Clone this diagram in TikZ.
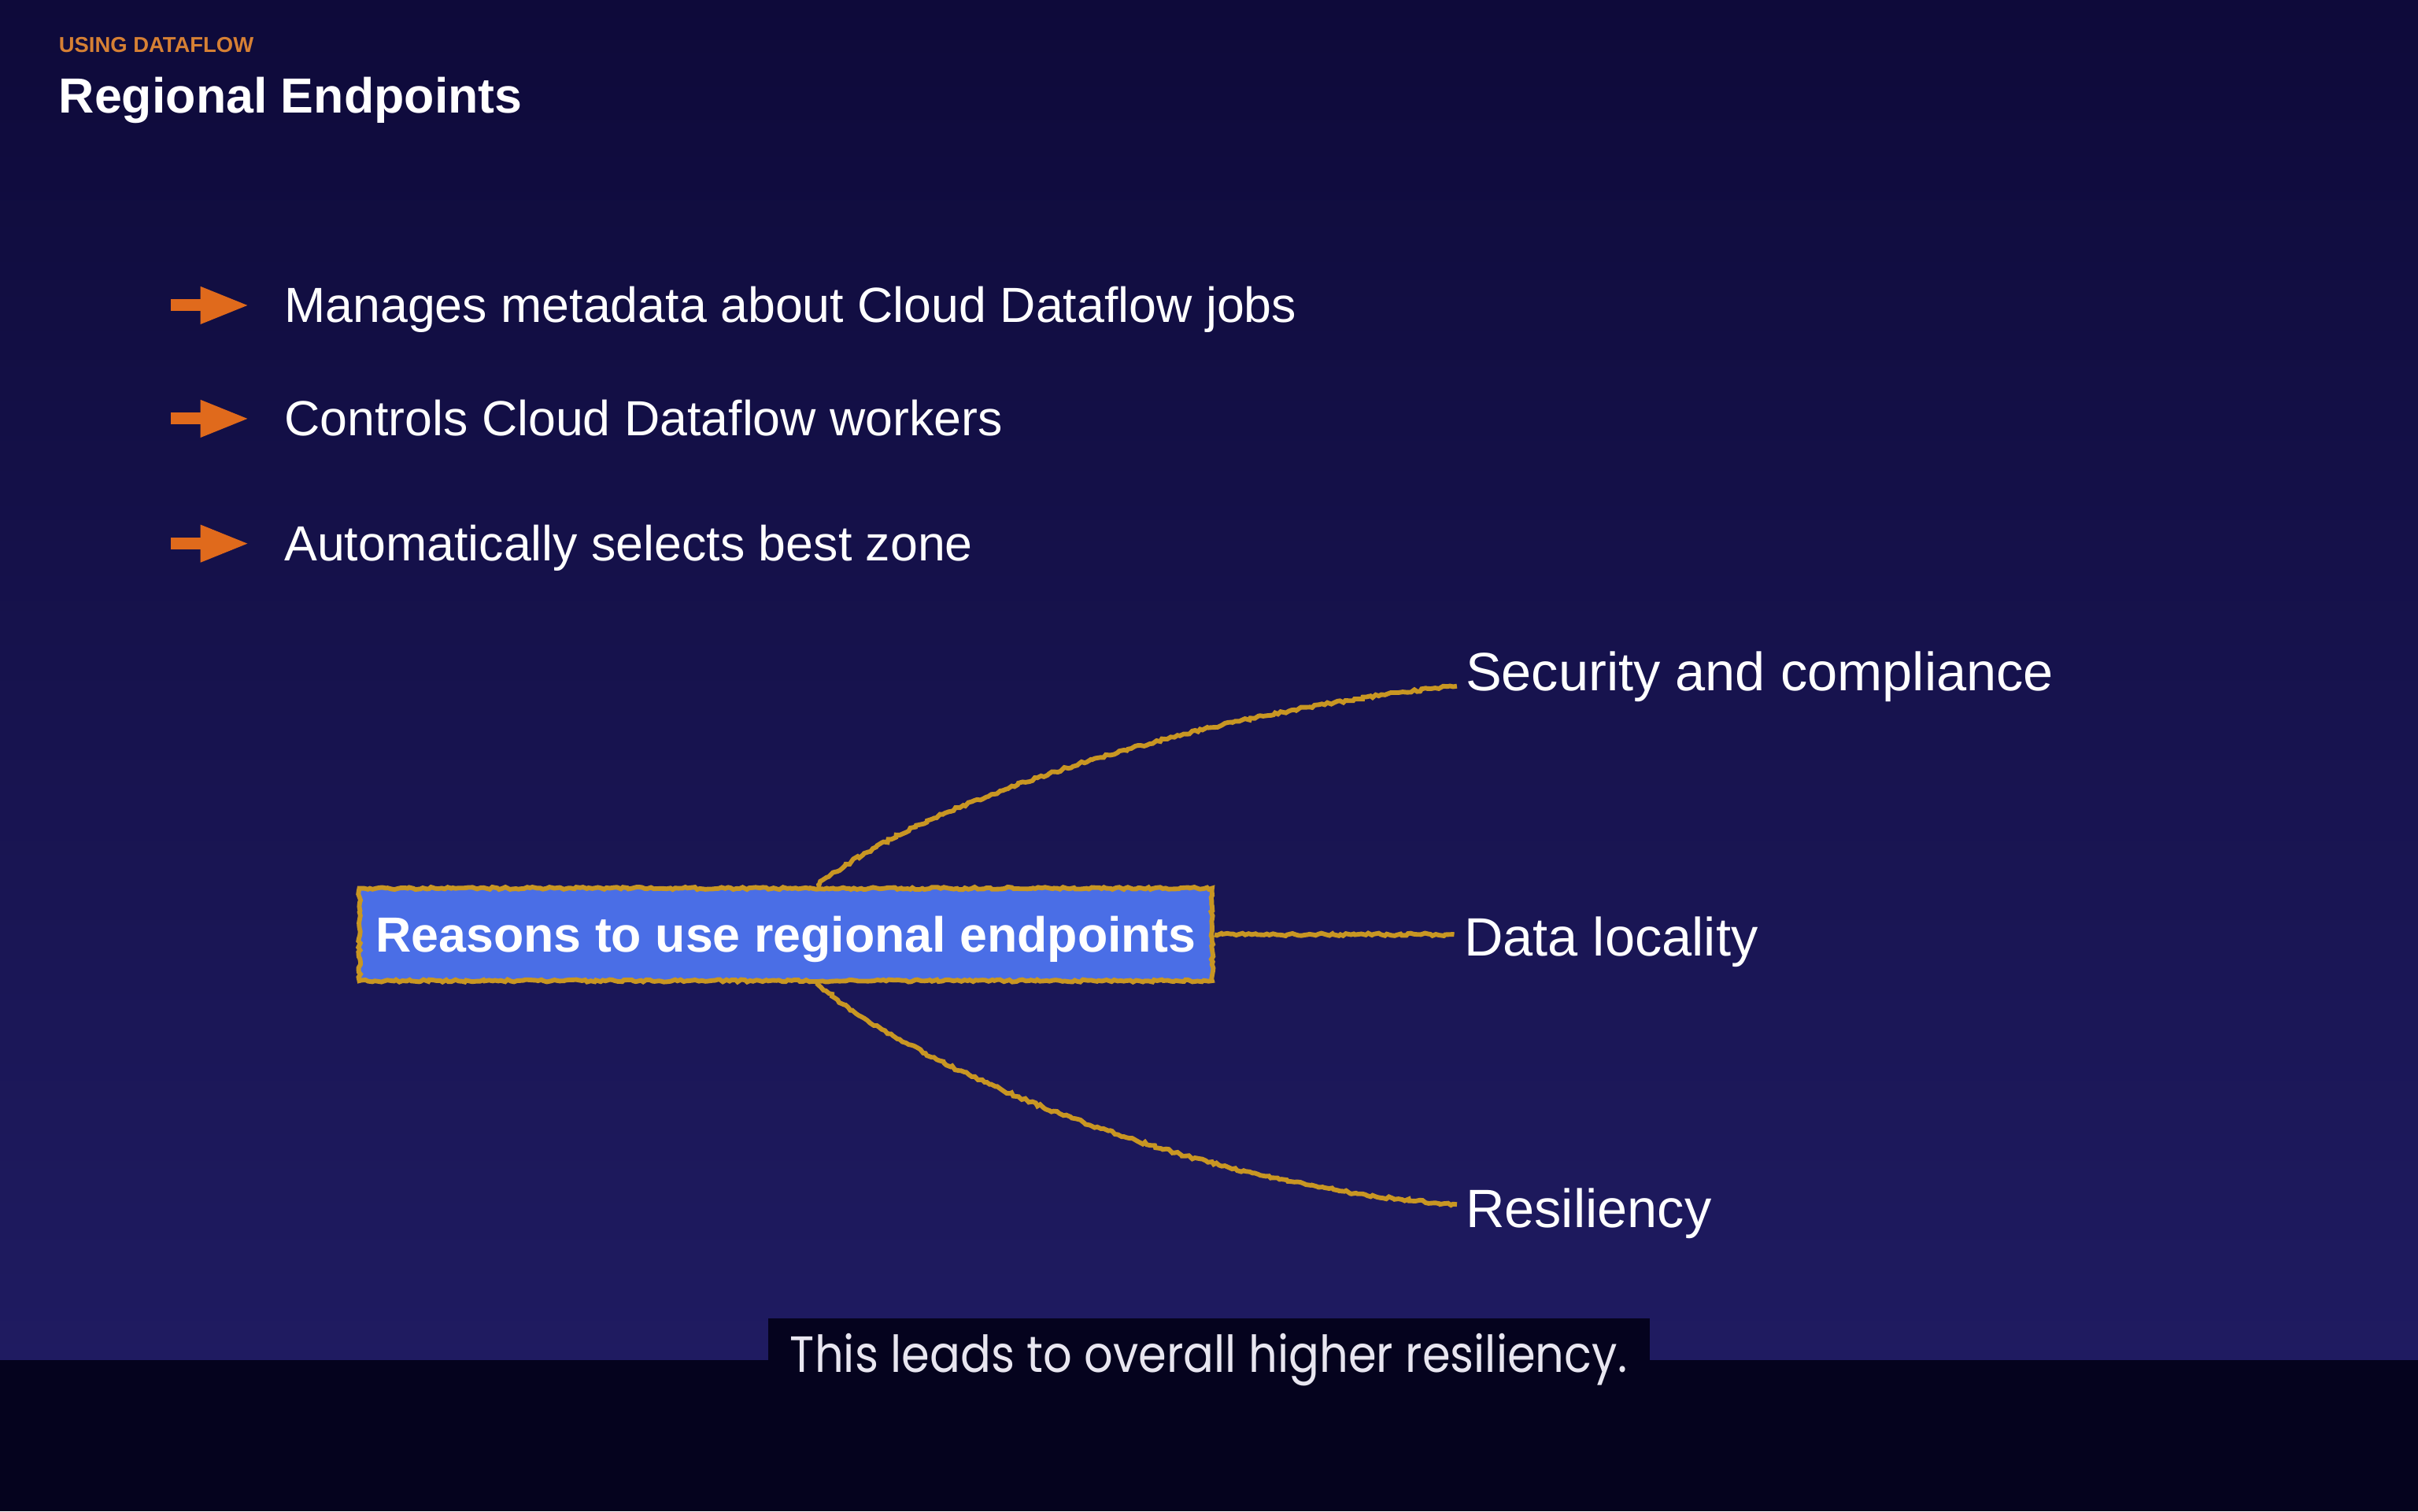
\documentclass[tikz,border=0pt]{standalone}
\usepackage{fontspec}
\setmainfont{Liberation Sans}
\newfontfamily\captionfont[FakeStretch=0.89]{Poppins}
\usepackage{tikz}
\usetikzlibrary{positioning,arrows.meta,decorations.pathmorphing}

\definecolor{bgtop}{RGB}{14,10,58}
\definecolor{bgbottom}{RGB}{31,27,97}
\definecolor{barblack}{RGB}{5,3,30}
\definecolor{kickerorange}{RGB}{214,128,52}
\definecolor{arroworange}{RGB}{224,106,28}
\definecolor{linegold}{RGB}{200,150,35}
\definecolor{boxblue}{RGB}{74,110,230}
\definecolor{captiongrey}{RGB}{232,230,240}

\tikzset{
  kicker/.style={text=kickerorange, inner sep=0pt, font=\fontsize{7}{8}\selectfont\bfseries},
  slidetitle/.style={text=white, inner sep=0pt, font=\fontsize{16}{19}\selectfont\bfseries},
  bullettext/.style={text=white, inner sep=0pt, font=\fontsize{16}{19}\selectfont},
  bulletarrow/.style={draw=arroworange, line width=3.8pt, -{Triangle[length=16pt,width=11pt]}},
  reasonbox/.style={fill=boxblue, draw=linegold, line width=1.5pt, text=white,
    minimum width=276.5pt, minimum height=30pt, inner sep=0pt, text depth=0pt,
    font=\fontsize{16}{19}\selectfont\bfseries,
    decorate, decoration={random steps, segment length=1pt, amplitude=0.4pt}},
  reasonlabel/.style={text=white, inner sep=3pt, font=\fontsize{17.5}{21}\selectfont},
  goldline/.style={draw=linegold, line width=1.5pt,
    decorate, decoration={random steps, segment length=1pt, amplitude=0.45pt}},
  captiontext/.style={text=captiongrey, inner sep=0pt, font=\fontsize{16.5}{19}\captionfont}
}

\begin{document}
\begin{tikzpicture}[x=0.5pt,y=0.5pt,yscale=-1,xscale=1]
\pgfmathsetseed{3}
\useasboundingbox (0,0) rectangle (1568,980);

%Background
\shade[top color=bgtop, bottom color=bgbottom] (0,0) rectangle (1568,882);
\fill[barblack] (0,882) rectangle (1568,980);
\fill[barblack] (498,855) rectangle (1070,882);

%Heading
\node[kicker, anchor=base west] (kicker) at (37.8,34) {USING DATAFLOW};
\node[slidetitle, anchor=base west] (title) at (37.8,73) {Regional Endpoints};

%Bullets
\node[bullettext, anchor=base west] (meta) at (184,209) {Manages metadata about Cloud Dataflow jobs};
\node[bullettext, anchor=base west] (ctrl) at (184,282.5) {Controls Cloud Dataflow workers};
\node[bullettext, anchor=base west] (zone) at (184,363.5) {Automatically selects best zone};
\foreach \b in {meta,ctrl,zone}
  \draw[bulletarrow] ([xshift=-36.5pt,yshift=-5.5pt]\b.base west) -- ([xshift=-11pt,yshift=-5.5pt]\b.base west);

%Reasons
\node[reasonbox] (reason) at (509.5,606) {Reasons to use regional endpoints};
\node[reasonlabel, anchor=base west] (security) at (944,448) {Security and compliance};
\node[reasonlabel, anchor=base west] (locality) at (943,620) {Data locality};
\node[reasonlabel, anchor=base west] (resiliency) at (944,796) {Resiliency};

%Connectors
\draw[goldline] ([xshift=10pt]reason.north) .. controls +(70,-56) and +(-163,16) .. ([yshift=-1.5pt]security.base west);
\draw[goldline] (reason.east) -- (reason.east -| locality.west);
\draw[goldline] ([xshift=10pt]reason.south) .. controls +(62,54) and +(-171,-11) .. ([yshift=-7.5pt]resiliency.base west);

%Caption
\node[captiontext, anchor=base west] (caption) at (512,890) {This leads to overall higher resiliency.};
\end{tikzpicture}
\end{document}
